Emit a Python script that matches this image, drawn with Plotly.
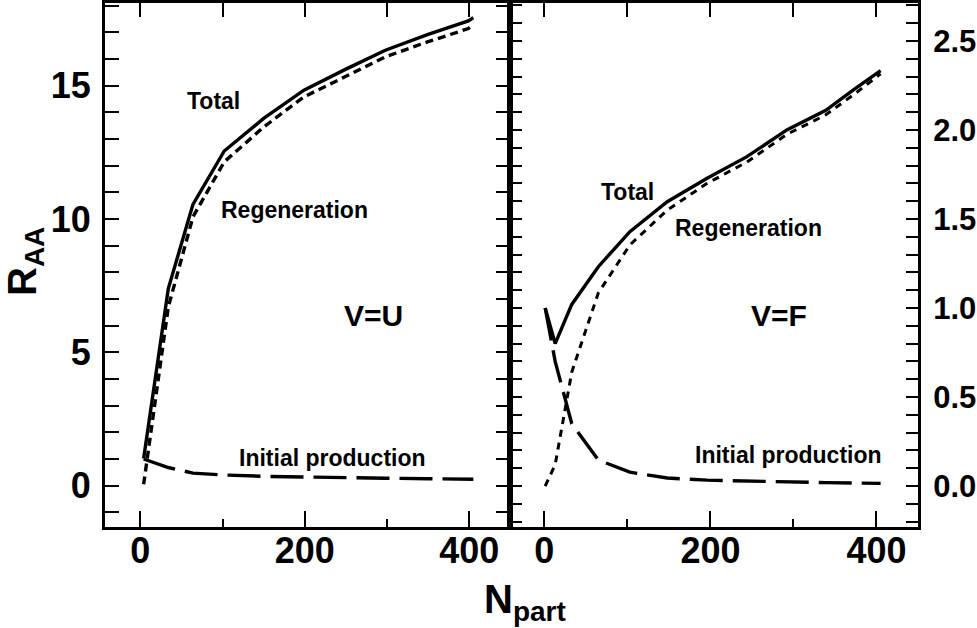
import plotly.graph_objects as go

# ---- data ----
# Left panel: V=U
npart_u = [4, 34, 64, 102, 150, 199, 250, 298, 350, 399, 405]
total_u = [1.02, 7.39, 10.55, 12.55, 13.77, 14.83, 15.62, 16.33, 16.92, 17.43, 17.55]
regen_u = [0.05, 6.70, 10.08, 12.14, 13.45, 14.58, 15.35, 16.08, 16.65, 17.14, 17.30]
init_u = [1.00, 0.68, 0.47, 0.40, 0.35, 0.32, 0.30, 0.28, 0.26, 0.24, 0.24]

# Right panel: V=F
npart_f = [1, 13, 33, 65, 103, 148, 196, 244, 292, 339, 373, 405]
total_f = [1.00, 0.80, 1.02, 1.232, 1.429, 1.597, 1.729, 1.85, 2.00, 2.11, 2.228, 2.333]
regen_f = [0.00, 0.12, 0.64, 1.085, 1.354, 1.55, 1.70, 1.82, 1.975, 2.085, 2.20, 2.315]
init_f = [1.00, 0.70, 0.35, 0.146, 0.078, 0.045, 0.033, 0.027, 0.022, 0.019, 0.017, 0.015]

x_ticks = [0, 200, 400]
y_ticks_u = [0, 5, 10, 15]
y_ticks_f = [0.0, 0.5, 1.0, 1.5, 2.0, 2.5]
y_ticklabels_f = ["0.0", "0.5", "1.0", "1.5", "2.0", "2.5"]

FONT = "Liberation Sans, Arial, Helvetica, sans-serif"
W, H = 977, 628
L, R, T, B = 105, 918, 3, 527

fig = go.Figure()

def add_panel(x, tot, reg, ini, xa, ya, regdash, regwidth):
    fig.add_trace(go.Scatter(x=x, y=tot, mode="lines", xaxis=xa, yaxis=ya,
                             line=dict(color="black", width=3.4), showlegend=False))
    fig.add_trace(go.Scatter(x=x, y=reg, mode="lines", xaxis=xa, yaxis=ya,
                             line=dict(color="black", width=regwidth, dash=regdash), showlegend=False))
    fig.add_trace(go.Scatter(x=x, y=ini, mode="lines", xaxis=xa, yaxis=ya,
                             line=dict(color="black", width=3.4, dash="33px,10px"), showlegend=False))

add_panel(npart_u, total_u, regen_u, init_u, "x", "y", "8px,5px", 3.4)
add_panel(npart_f, total_f, regen_f, init_f, "x2", "y2", "7px,6px", 3.0)

# invisible traces so the top tick overlays exist
fig.add_trace(go.Scatter(x=[None], y=[None], xaxis="x3", yaxis="y", showlegend=False, hoverinfo="skip"))
fig.add_trace(go.Scatter(x=[None], y=[None], xaxis="x4", yaxis="y2", showlegend=False, hoverinfo="skip"))

split = (509.5 - L) / (R - L)
xrange = [-43, 449]
tickfont_x = dict(family=FONT, size=36, color="black", weight="bold")

common_x = dict(showgrid=False, zeroline=False, showline=True, linewidth=3, linecolor="black",
                mirror=True, ticks="inside", ticklen=16, tickwidth=2.4, tickcolor="black",
                tickvals=x_ticks, tickfont=tickfont_x, automargin=False, ticklabelstandoff=-10,
                minor=dict(ticks="inside", ticklen=8, tickwidth=2.4, tickcolor="black",
                           tickvals=[100, 300], showgrid=False))
top_x = dict(showgrid=False, zeroline=False, showline=False, side="top", automargin=False,
             ticks="inside", ticklen=14, tickwidth=2.4, tickcolor="black",
             tickvals=[0, 100, 200, 300, 400], showticklabels=False)

fig.update_layout(
    width=W, height=H,
    margin=dict(l=L, r=W - R, t=T, b=H - B, pad=0),
    paper_bgcolor="white", plot_bgcolor="white",
    xaxis=dict(domain=[0, split], range=xrange, anchor="y", **common_x),
    xaxis2=dict(domain=[split, 1], range=[-42, 450], anchor="y2", **common_x),
    xaxis3=dict(overlaying="x", anchor="y", range=xrange, **top_x),
    xaxis4=dict(overlaying="x2", anchor="y2", range=[-42, 450], **top_x),
    yaxis=dict(domain=[0, 1], range=[-1.55, 18.1], anchor="x", side="left", automargin=False,
               showgrid=False, zeroline=False, showline=True, linewidth=3, linecolor="black",
               mirror="allticks", ticks="inside", ticklen=14, tickwidth=2.4, tickcolor="black",
               tickvals=y_ticks_u, ticklabelstandoff=4,
               tickfont=dict(family=FONT, size=36, color="black", weight="bold"),
               minor=dict(ticks="inside", ticklen=8, tickwidth=2.4, tickcolor="black",
                          dtick=1, showgrid=False)),
    yaxis2=dict(domain=[0, 1], range=[-0.23, 2.713], anchor="x2", side="right", automargin=False,
                showgrid=False, zeroline=False, showline=True, linewidth=3, linecolor="black",
                mirror="allticks", ticks="inside", ticklen=12, tickwidth=2.4, tickcolor="black",
                tickvals=y_ticks_f, ticktext=y_ticklabels_f, ticklabelstandoff=6,
                tickfont=dict(family=FONT, size=31, color="black", weight="bold"),
                minor=dict(ticks="inside", ticklen=6, tickwidth=2.4, tickcolor="black",
                           dtick=0.1, showgrid=False)),
)

def px(xp, yp):
    return (xp - L) / (R - L), (B - yp) / (B - T)

def label(text, xp, yp, size):
    x, y = px(xp, yp)
    fig.add_annotation(text=text, x=x, y=y, xref="paper", yref="paper",
                       xanchor="center", yanchor="middle", showarrow=False,
                       font=dict(family=FONT, size=size, color="black", weight="bold"))

label("Total", 213, 101.5, 23)
label("Regeneration", 294.5, 210, 23)
label("V=U", 373.5, 315, 30)
label("Initial production", 332.5, 457.5, 23)
label("Total", 627.5, 191.5, 23)
label("Regeneration", 748.5, 228.5, 23)
label("V=F", 779, 315, 30)
label("Initial production", 788.5, 455, 23)

# axis titles
x, y = px(25, 262)
fig.add_annotation(text="R<sub>AA</sub>", x=x, y=y, xref="paper", yref="paper",
                   xanchor="center", yanchor="middle", showarrow=False, textangle=-90,
                   font=dict(family=FONT, size=40, color="black", weight="bold"))
x, y = px(525, 602)
fig.add_annotation(text="N<sub>part</sub>", x=x, y=y, xref="paper", yref="paper",
                   xanchor="center", yanchor="middle", showarrow=False,
                   font=dict(family=FONT, size=40, color="black", weight="bold"))

fig.write_html("out.html", config={"displayModeBar": False},
               post_script="document.body.style.margin='0px';document.body.style.overflow='hidden';")
